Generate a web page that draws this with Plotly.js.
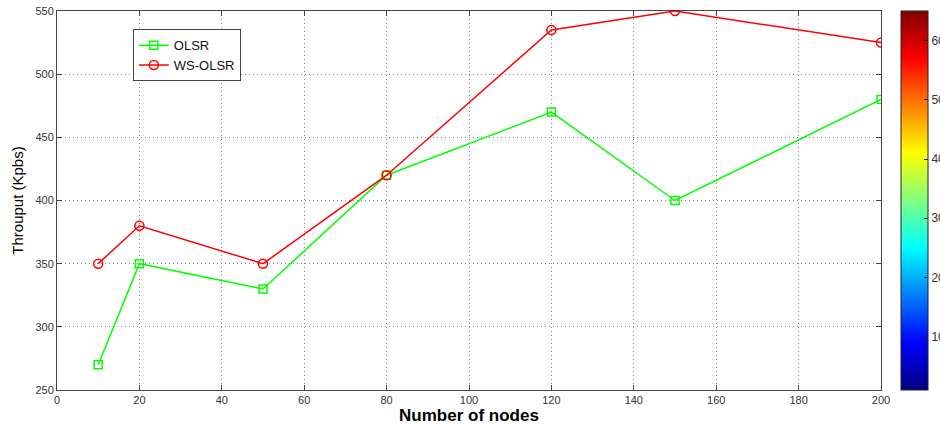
<!DOCTYPE html>
<html>
<head>
<meta charset="utf-8">
<script src="https://cdn.plot.ly/plotly-3.0.1.min.js"></script>
<style>html,body{margin:0;padding:0;background:#fff;}#chart{width:940px;height:426px;}</style>
</head>
<body>
<div id="chart"></div>
<script>
const nodes = [10, 20, 50, 80, 120, 150, 200];
const olsr = [270, 350, 330, 420, 470, 400, 480];
const wsOlsr = [350, 380, 350, 420, 535, 550, 525];
const xTicks = [0, 20, 40, 60, 80, 100, 120, 140, 160, 180, 200];
const yTicks = [250, 300, 350, 400, 450, 500, 550];
const cbarTicks = [10, 20, 30, 40, 50, 60];

const jet = [
  [0, 'rgb(0,0,128)'],
  [0.125, 'rgb(0,0,255)'],
  [0.375, 'rgb(0,255,255)'],
  [0.625, 'rgb(255,255,0)'],
  [0.875, 'rgb(255,0,0)'],
  [1, 'rgb(128,0,0)']
];

const traces = [
  {
    x: nodes, y: olsr, name: 'OLSR', type: 'scatter', mode: 'lines+markers',
    line: {color: 'rgb(0,255,0)', width: 1.5},
    marker: {symbol: 'square-open', size: 8, color: 'rgb(0,255,0)', line: {width: 1.5}}
  },
  {
    x: nodes, y: wsOlsr, name: 'WS-OLSR', type: 'scatter', mode: 'lines+markers',
    line: {color: 'rgb(255,0,0)', width: 1.5},
    marker: {symbol: 'circle-open', size: 9, color: 'rgb(255,0,0)', line: {width: 1.5}}
  },
  {
    x: [null], y: [null], type: 'scatter', mode: 'markers', showlegend: false, hoverinfo: 'skip',
    marker: {
      color: [1], cmin: 1, cmax: 65, colorscale: jet, showscale: true, size: 1,
      colorbar: {
        x: 1.0243, xanchor: 'left', xpad: 0, ypad: 0,
        y: 0.5, yanchor: 'middle', len: 379, lenmode: 'pixels',
        thickness: 27, thicknessmode: 'pixels',
        outlinecolor: '#222', outlinewidth: 1,
        tickvals: cbarTicks, ticks: 'inside', ticklen: 4, tickcolor: '#222',
        tickfont: {family: 'Liberation Sans, Arial, sans-serif', size: 12, color: '#333'}
      }
    }
  }
];

const tickFont = {family: 'Liberation Sans, Arial, sans-serif', size: 11, color: '#333'};

const layout = {
  width: 940, height: 426,
  margin: {l: 57, r: 59, t: 11, b: 36, autoexpand: false},
  paper_bgcolor: '#fff', plot_bgcolor: '#fff',
  showlegend: true,
  legend: {
    x: 0.092, y: 0.952, xanchor: 'left', yanchor: 'top',
    bgcolor: '#fff', bordercolor: '#444', borderwidth: 1,
    font: {family: 'Liberation Sans, Arial, sans-serif', size: 13, color: '#111'},
    tracegroupgap: 0, entrywidth: 140, entrywidthmode: 'pixels'
  },
  xaxis: {
    range: [0, 200], tickvals: xTicks, ticks: 'inside', ticklen: 5, tickcolor: '#444',
    showline: true, linecolor: '#444', linewidth: 1, mirror: 'ticks',
    showgrid: true, gridcolor: '#888', griddash: '1px,3px', gridwidth: 1,
    zeroline: false, tickfont: tickFont,
    title: {text: '<b>Number of nodes</b>', font: {family: 'Liberation Sans, Arial, sans-serif', size: 17, color: '#000'}, standoff: 3}
  },
  yaxis: {
    range: [250, 550], tickvals: yTicks, ticks: 'inside', ticklen: 5, tickcolor: '#444',
    showline: true, linecolor: '#444', linewidth: 1, mirror: 'ticks',
    showgrid: true, gridcolor: '#888', griddash: '1px,3px', gridwidth: 1,
    zeroline: false, tickfont: tickFont,
    title: {text: 'Throuput (Kpbs)', font: {family: 'Liberation Sans, Arial, sans-serif', size: 15, color: '#000'}, standoff: 8}
  }
};

Plotly.newPlot('chart', traces, layout, {displayModeBar: false, staticPlot: true});
</script>
</body>
</html>
